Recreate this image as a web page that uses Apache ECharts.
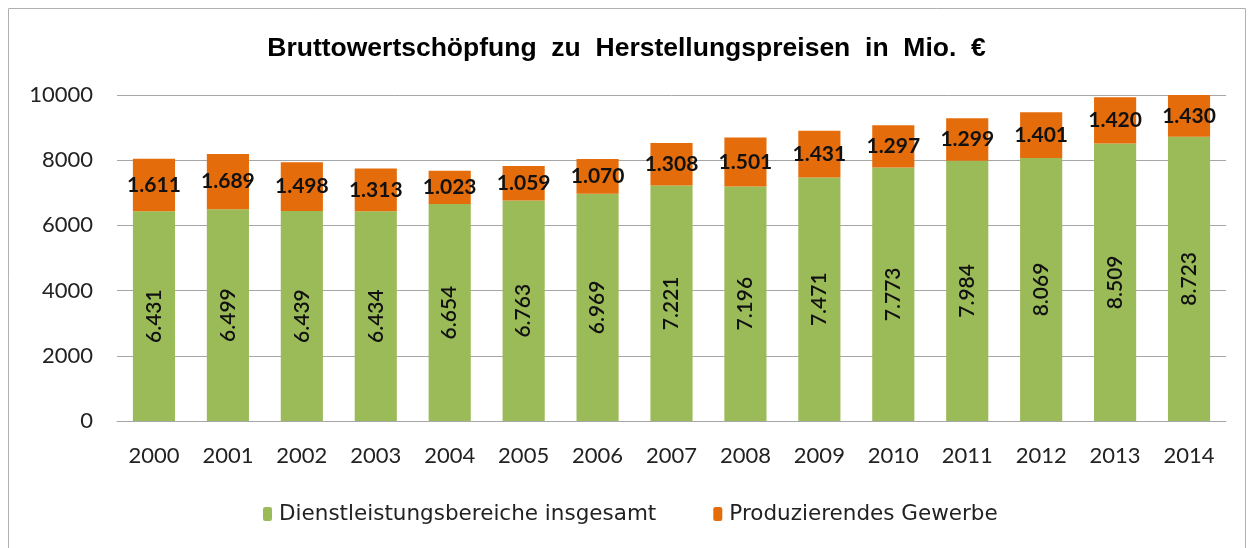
<!DOCTYPE html>
<html>
<head>
<meta charset="utf-8">
<script src="https://cdn.jsdelivr.net/npm/echarts@6/dist/echarts.min.js"></script>
<style>html,body{margin:0;padding:0;background:#fff;}#c{width:1253px;height:548px;}</style>
</head>
<body>
<div id="c"></div>
<script>
const years = ['2000','2001','2002','2003','2004','2005','2006','2007','2008','2009','2010','2011','2012','2013','2014'];
const dienstleistung = [6431,6499,6439,6434,6654,6763,6969,7221,7196,7471,7773,7984,8069,8509,8723];
const produzierend = [1611,1689,1498,1313,1023,1059,1070,1308,1501,1431,1297,1299,1401,1420,1430];
const seriesNames = ['Dienstleistungsbereiche insgesamt','Produzierendes Gewerbe'];
const yTicks = [0,2000,4000,6000,8000,10000];

function fmt(v){
  return String(v).replace(/\B(?=(\d{3})+(?!\d))/g,'.');
}
const font = 'Lato';
const chart = echarts.init(document.getElementById('c'));
chart.setOption({
  animation:false,
  backgroundColor:'#fff',
  graphic:[{type:'rect',shape:{x:8.5,y:8.5,width:1237,height:560},style:{fill:'none',stroke:'#b0b0b0',lineWidth:1}}],
  title:{text:'Bruttowertschöpfung  zu  Herstellungspreisen  in  Mio.  €',left:'center',top:30,
    textStyle:{fontFamily:'Liberation Sans',fontWeight:'bold',fontSize:26.5,color:'#000'}},
  grid:{left:117,right:27,top:95,bottom:127},
  legend:{left:258,top:498,itemWidth:9,itemHeight:14,itemGap:57,
    textStyle:{fontFamily:'DejaVu Sans',fontSize:21.5,color:'#222',padding:[0,0,0,2]},
    data:seriesNames},
  xAxis:{type:'category',data:years,
    axisLine:{lineStyle:{color:'#a6a6a6',width:1}},axisTick:{show:false},
    axisLabel:{fontFamily:font,fontSize:22,color:'#222',margin:24}},
  yAxis:{type:'value',min:yTicks[0],max:yTicks[yTicks.length-1],interval:2000,
    axisLine:{show:false},axisTick:{show:false},
    splitLine:{lineStyle:{color:'#a6a6a6',width:1}},
    axisLabel:{fontFamily:font,fontSize:22,color:'#222',margin:24,formatter:v=>String(v)}},
  series:[
    {name:seriesNames[0],type:'bar',stack:'a',data:dienstleistung,barWidth:'57%',
      itemStyle:{color:'#9bbb59'},
      label:{show:true,position:'inside',rotate:90,formatter:p=>fmt(p.value),
        fontFamily:font,fontSize:21,color:'#111',fontWeight:600}},
    {name:seriesNames[1],type:'bar',stack:'a',data:produzierend,barWidth:'57%',
      itemStyle:{color:'#e46c0a'},
      label:{show:true,position:'inside',formatter:p=>fmt(p.value),
        fontFamily:font,fontSize:21,color:'#111',fontWeight:'bold'}}
  ]
});
</script>
</body>
</html>
